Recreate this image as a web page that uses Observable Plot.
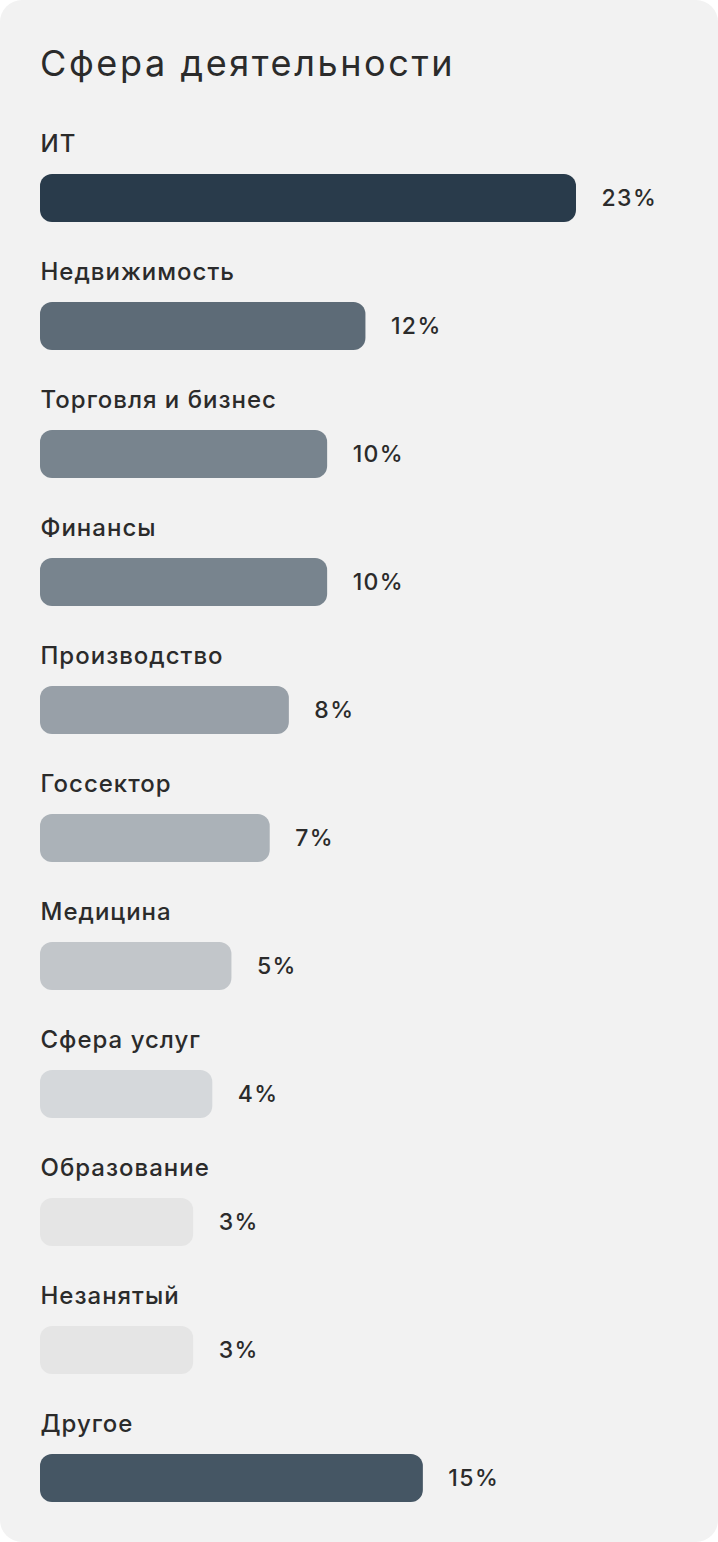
<!DOCTYPE html>
<html>
<head>
<meta charset="utf-8">
<script src="https://cdn.jsdelivr.net/npm/d3@7"></script>
<script src="https://cdn.jsdelivr.net/npm/@observablehq/plot@0.6"></script>
<style>
  html, body { margin: 0; padding: 0; background: #ffffff; }
  #card {
    width: 718px; height: 1542px; box-sizing: border-box;
    background: #f2f2f2; border-radius: 22px; overflow: hidden;
    font-family: Inter, "Noto Sans", sans-serif; color: #2b2b2b;
  }
  #title {
    margin: 0; padding: 43px 0 0 40px; height: 57px;
    font-size: 36px; font-weight: 400; line-height: 40px; letter-spacing: 2.6px;
  }
  #chart svg { display: block; }
  #chart g.cat text { letter-spacing: 1px; }
  #chart g.pct text { letter-spacing: 1.4px; }
</style>
</head>
<body>
<div id="card">
  <div id="title">Сфера деятельности</div>
  <div id="chart"></div>
</div>
<script>
const categories = ["ИТ", "Недвижимость", "Торговля и бизнес", "Финансы", "Производство", "Госсектор", "Медицина", "Сфера услуг", "Образование", "Незанятый", "Другое"];
const values = [23, 12, 10, 10, 8, 7, 5, 4, 3, 3, 15];
const barColors = ["#293b4b", "#5d6b77", "#78848e", "#78848e", "#98a0a8", "#abb2b8", "#c2c6ca", "#d5d8db", "#e5e5e5", "#e5e5e5", "#455664"];

const data = categories.map((c, i) => ({category: c, value: values[i]}));
const xBase = -5;

const chart = Plot.plot({
  width: 718,
  height: 1408,
  marginTop: 0,
  marginBottom: 0,
  marginLeft: 40,
  marginRight: 142,
  style: {background: "transparent", fontFamily: "Inter, 'Noto Sans', sans-serif", color: "#2b2b2b"},
  x: {domain: [xBase, 23], axis: null},
  y: {domain: categories, axis: null, padding: 0},
  color: {type: "ordinal", domain: categories, range: barColors},
  marks: [
    Plot.barX(data, {
      y: "category", x1: () => xBase, x2: "value",
      fill: "category", rx: 12, insetTop: 74, insetBottom: 6
    }),
    Plot.text(data, {
      y: "category", text: "category", frameAnchor: "left",
      textAnchor: "start", lineAnchor: "bottom", dy: -13,
      fontSize: 24, fill: "#2b2b2b", fontWeight: 500, className: "cat"
    }),
    Plot.text(data, {
      y: "category", x: "value", text: d => d.value + "%",
      textAnchor: "start", lineAnchor: "middle", dx: 25, dy: 34,
      fontSize: 23, fill: "#2b2b2b", fontWeight: 500, className: "pct"
    })
  ]
});
document.getElementById("chart").appendChild(chart);
</script>
</body>
</html>
